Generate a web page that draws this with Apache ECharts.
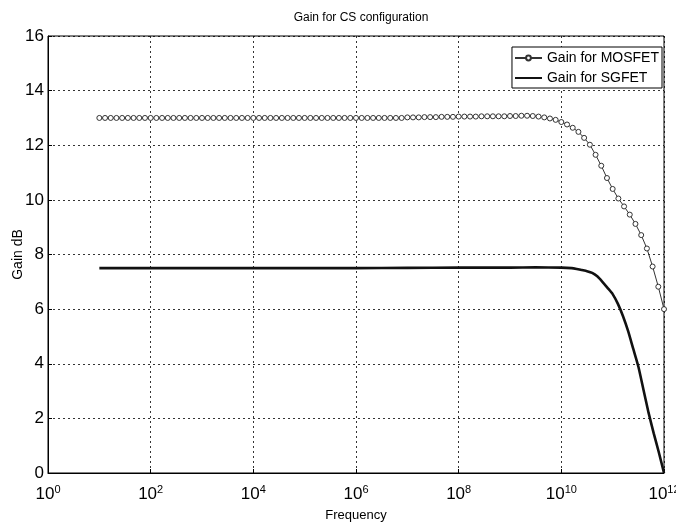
<!DOCTYPE html>
<html>
<head>
<meta charset="utf-8">
<script src="https://cdn.jsdelivr.net/npm/echarts@6/dist/echarts.min.js"></script>
<style>
    * { margin: 0; padding: 0; }
    body { background: #fff; }
</style>
</head>
<body>
<div id="main" style="width: 676px;height: 527px;"></div>
<script>
    // frequency exponents (log10 Hz) of the MOSFET samples
    var mosExp = [
        1.000, 1.111, 1.222, 1.333, 1.444, 1.556, 1.667, 1.778, 1.889,
        2.000, 2.111, 2.222, 2.333, 2.444, 2.556, 2.667, 2.778, 2.889,
        3.000, 3.111, 3.222, 3.333, 3.444, 3.556, 3.667, 3.778, 3.889,
        4.000, 4.111, 4.222, 4.333, 4.444, 4.556, 4.667, 4.778, 4.889,
        5.000, 5.111, 5.222, 5.333, 5.444, 5.556, 5.667, 5.778, 5.889,
        6.000, 6.111, 6.222, 6.333, 6.444, 6.556, 6.667, 6.778, 6.889,
        7.000, 7.111, 7.222, 7.333, 7.444, 7.556, 7.667, 7.778, 7.889,
        8.000, 8.111, 8.222, 8.333, 8.444, 8.556, 8.667, 8.778, 8.889,
        9.000, 9.111, 9.222, 9.333, 9.444, 9.556, 9.667, 9.778, 9.889,
        10.000, 10.111, 10.222, 10.333, 10.444, 10.556, 10.667, 10.778, 10.889,
        11.000, 11.111, 11.222, 11.333, 11.444, 11.556, 11.667, 11.778, 11.889,
        12.000
    ];
    var mosGain = [
        13.0, 13.0, 13.0, 13.0, 13.0, 13.0, 13.0, 13.0, 13.0,
        13.0, 13.0, 13.0, 13.0, 13.0, 13.0, 13.0, 13.0, 13.0,
        13.0, 13.0, 13.0, 13.0, 13.0, 13.0, 13.0, 13.0, 13.0,
        13.0, 13.0, 13.0, 13.0, 13.0, 13.0, 13.0, 13.0, 13.0,
        13.0, 13.0, 13.0, 13.0, 13.0, 13.0, 13.0, 13.0, 13.0,
        13.0, 13.0, 13.0, 13.0, 13.0, 13.0, 13.0, 13.0, 13.0,
        13.02, 13.02, 13.02, 13.03, 13.03, 13.03, 13.04, 13.04, 13.04,
        13.05, 13.05, 13.05, 13.05, 13.06, 13.06, 13.06, 13.06, 13.06,
        13.07, 13.07, 13.08, 13.08, 13.07, 13.05, 13.02, 12.98, 12.93,
        12.85, 12.76, 12.64, 12.49, 12.27, 12.02, 11.65, 11.25, 10.8,
        10.4, 10.05, 9.76, 9.46, 9.12, 8.71, 8.22, 7.56, 6.82,
        6.0
    ];
    // SGFET curve
    var sgExp = [1, 2, 3, 4, 5, 6, 7, 8, 9, 9.5, 10, 10.2, 10.3, 10.4, 10.5, 10.6, 10.7, 10.8,
        10.9, 11.0, 11.1, 11.2, 11.3, 11.4, 11.5, 11.6, 11.7, 11.8, 11.9, 12];
    var sgGain = [7.5, 7.5, 7.5, 7.5, 7.5, 7.5, 7.51, 7.52, 7.52, 7.53, 7.52, 7.5, 7.47, 7.43, 7.39, 7.33, 7.2, 7.0,
        6.78, 6.55, 6.2, 5.75, 5.2, 4.55, 3.9, 3.05, 2.2, 1.45, 0.75, 0];

    var seriesNames = ['Gain for MOSFET', 'Gain for SGFET'];
    var yTicks = {min: 0, max: 16, step: 2};
    var xTicks = {min: 1, max: 1e12};

    var FONT = "'Liberation Sans', Arial, sans-serif";

    function pairs(exps, vals) {
        return exps.map(function (e, i) { return [Math.pow(10, e), vals[i]]; });
    }

    var chart = echarts.init(document.getElementById('main'), null, {renderer: 'canvas'});
    chart.setOption({
        animation: false,
        backgroundColor: '#fff',
        textStyle: {fontFamily: FONT, color: '#000'},
        title: {
            text: 'Gain for CS configuration',
            left: 356, top: 7, textAlign: 'center',
            textStyle: {fontSize: 12, fontWeight: 'normal', color: '#000', fontFamily: FONT}
        },
        grid: {
            left: 48, right: 12, top: 36, bottom: 54,
            outerBoundsMode: 'none', containLabel: false,
            show: true, borderColor: '#000', borderWidth: 1, backgroundColor: 'transparent'
        },
        legend: {
            orient: 'vertical', right: 14, top: 47,
            backgroundColor: '#fff', borderColor: '#000', borderWidth: 1,
            padding: [4, 3, 3, 2], itemGap: 6, itemWidth: 27, itemHeight: 6,
            textStyle: {fontSize: 14, color: '#000', fontFamily: FONT},
            data: [
                {name: seriesNames[0]},
                {name: seriesNames[1], itemStyle: {opacity: 0}}
            ]
        },
        xAxis: {
            type: 'log', logBase: 10,
            min: xTicks.min, max: xTicks.max, interval: 2,
            name: 'Frequency', nameLocation: 'middle', nameGap: 36,
            nameMoveOverlap: false,
            nameTextStyle: {fontSize: 13, color: '#000', fontFamily: FONT},
            axisLine: {show: true, lineStyle: {color: '#000', width: 1}},
            axisTick: {show: true, inside: true, length: 4, lineStyle: {color: '#000'}},
            minorTick: {show: false},
            splitLine: {show: true, lineStyle: {color: '#000', type: [2, 3], width: 0.8}},
            axisLabel: {
                margin: 11,
                formatter: function (v) {
                    var e = Math.round(Math.log(v) / Math.LN10);
                    return '{b|10}{s|' + e + '}';
                },
                rich: {
                    b: {fontSize: 17, color: '#000', fontFamily: FONT},
                    s: {fontSize: 11, color: '#000', fontFamily: FONT, padding: [0, 0, 9, 0]}
                }
            }
        },
        yAxis: {
            type: 'value', min: yTicks.min, max: yTicks.max, interval: yTicks.step,
            name: 'Gain dB', nameLocation: 'middle', nameGap: 23,
            nameMoveOverlap: false,
            nameTextStyle: {fontSize: 14, color: '#000', fontFamily: FONT},
            axisLine: {show: true, lineStyle: {color: '#000', width: 1}},
            axisTick: {show: true, inside: true, length: 4, lineStyle: {color: '#000'}},
            splitLine: {show: true, lineStyle: {color: '#000', type: [2, 3], width: 0.8}},
            axisLabel: {fontSize: 17, color: '#000', margin: 4, fontFamily: FONT}
        },
        series: [
            {
                name: seriesNames[0],
                type: 'line',
                data: pairs(mosExp, mosGain),
                symbol: 'circle',
                symbolSize: 5,
                showAllSymbol: true,
                itemStyle: {color: '#fff', borderColor: '#333', borderWidth: 1},
                lineStyle: {color: '#333', width: 1},
                z: 3
            },
            {
                name: seriesNames[1],
                type: 'line',
                data: pairs(sgExp, sgGain),
                symbol: 'none',
                smooth: 0.2,
                itemStyle: {color: '#111'},
                lineStyle: {color: '#111', width: 2.6},
                z: 2
            }
        ]
    });
</script>
</body>
</html>
